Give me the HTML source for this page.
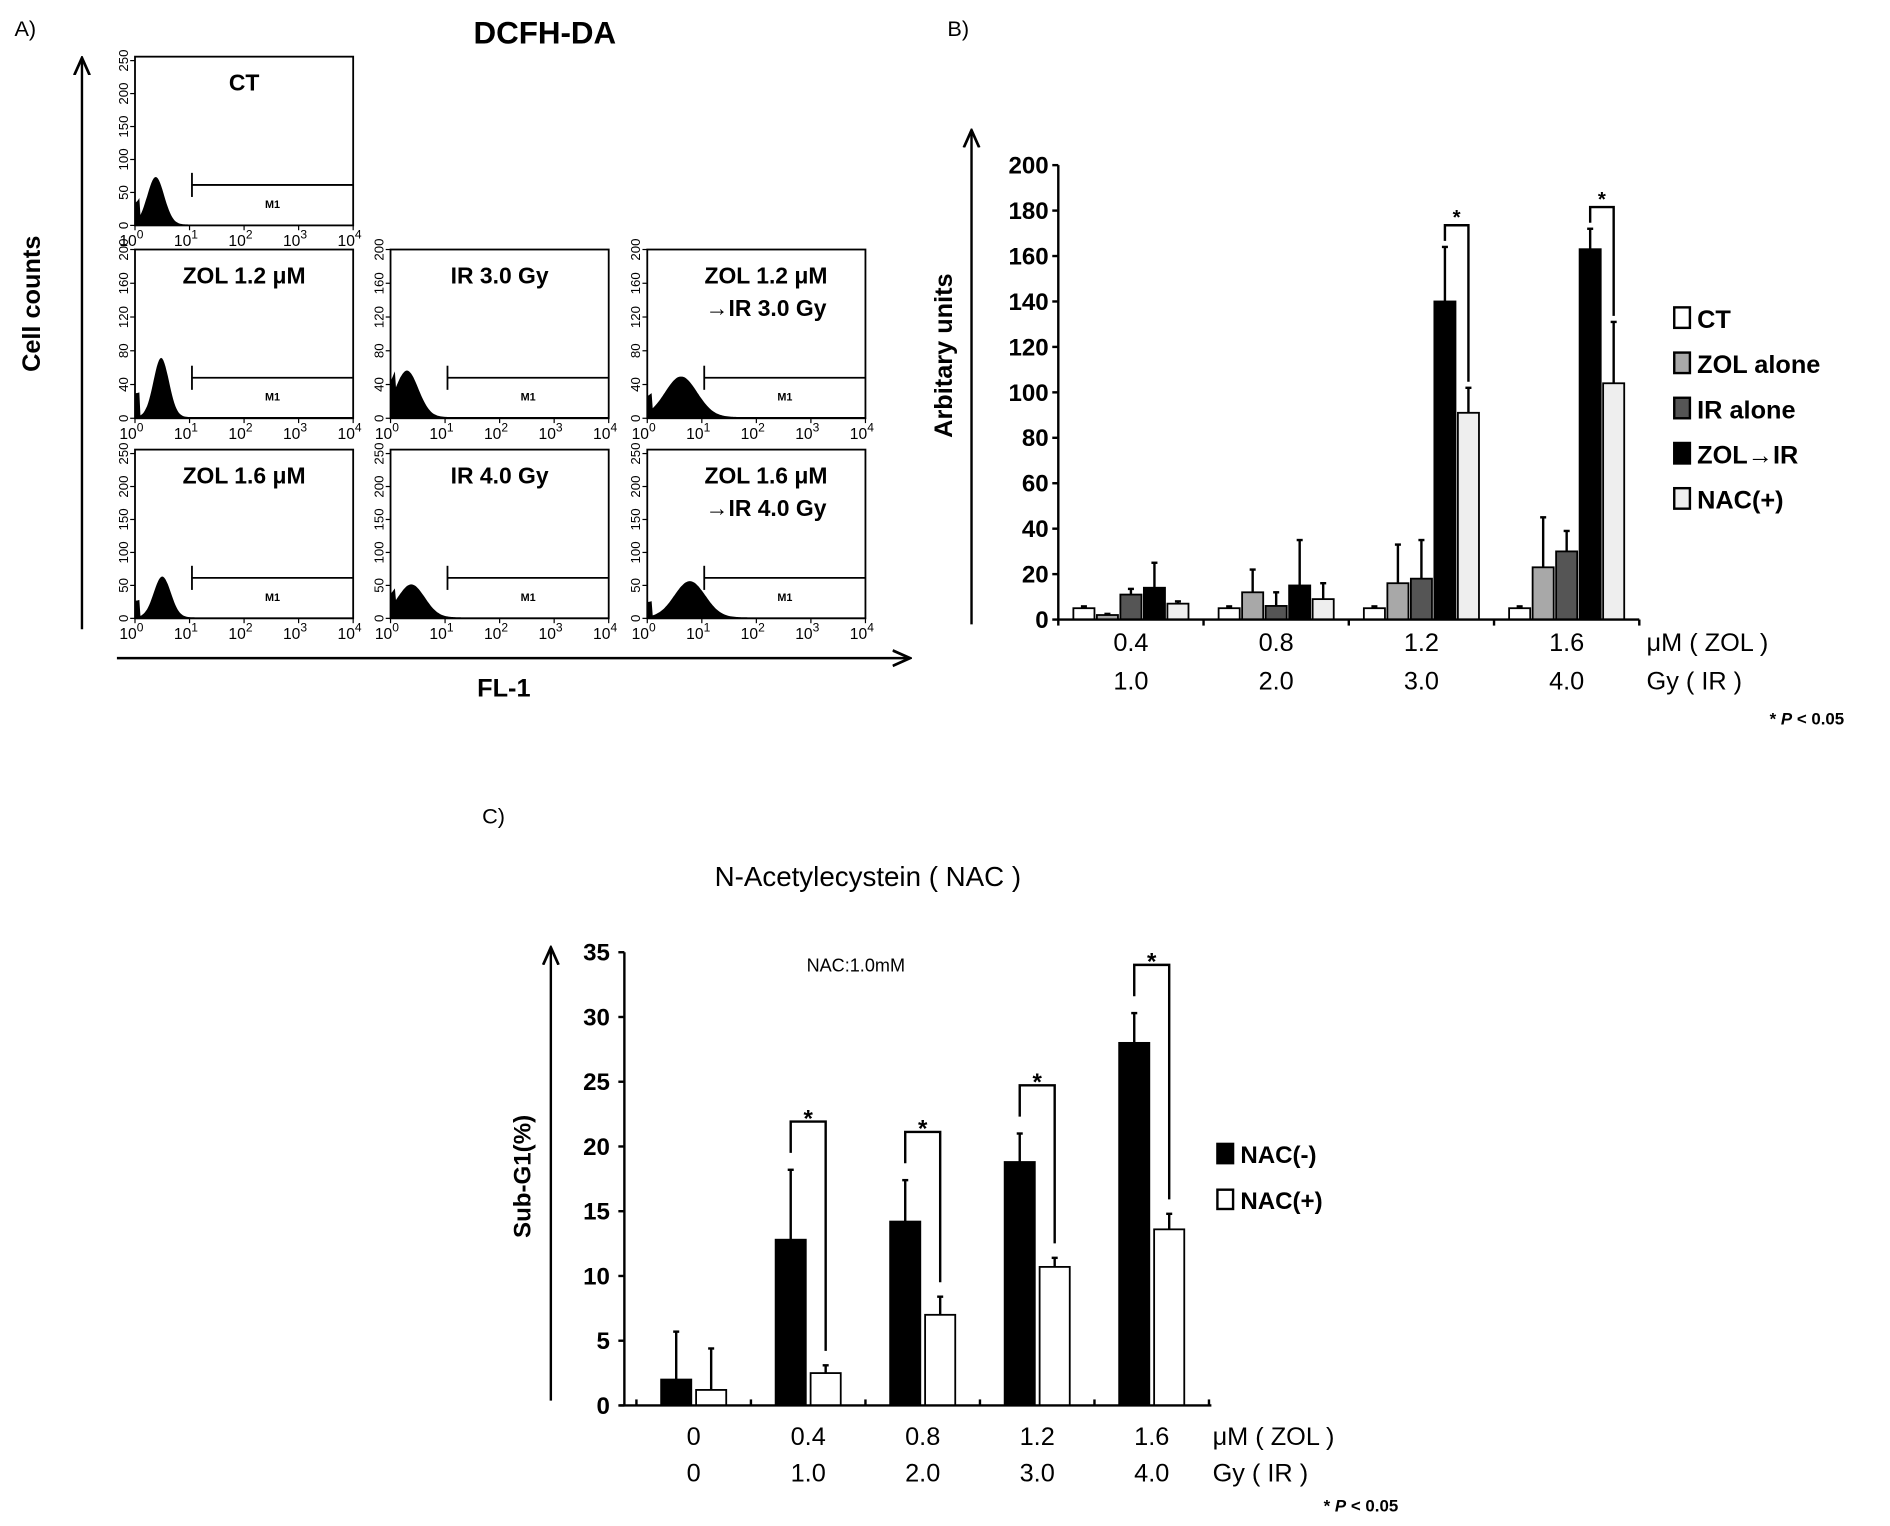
<!DOCTYPE html>
<html><head><meta charset="utf-8"><style>
html,body{margin:0;padding:0;background:#fff}
svg{display:block}
text{font-family:"Liberation Sans",sans-serif}
.b{font-weight:bold}
</style></head><body>
<svg id="fig" width="1890" height="1526" viewBox="0 0 1568 1266" xmlns="http://www.w3.org/2000/svg">
<defs><marker id="ar" viewBox="0 0 10 10" refX="9" refY="5" markerWidth="8" markerHeight="8" orient="auto"><path d="M0,1 L9,5 L0,9" fill="none" stroke="#000" stroke-width="1.4"/></marker></defs>
<g id="pa">
<text x="12" y="30" font-size="18">A)</text>
<text x="452" y="36" font-size="26" class="b" text-anchor="middle">DCFH-DA</text>
<line x1="68" y1="522" x2="68" y2="48" stroke="#000" stroke-width="2" marker-end="url(#ar)"/>
<line x1="97" y1="546" x2="755" y2="546" stroke="#000" stroke-width="2" marker-end="url(#ar)"/>
<text transform="translate(33,252) rotate(-90)" font-size="21" class="b" text-anchor="middle">Cell counts</text>
<text x="418" y="578" font-size="21" class="b" text-anchor="middle">FL-1</text>
</g>
<g id="pb">
<text x="786" y="30" font-size="18">B)</text>
<line x1="806" y1="518" x2="806" y2="108" stroke="#000" stroke-width="2" marker-end="url(#ar)"/>
<text transform="translate(790,295) rotate(-90)" font-size="21" class="b" text-anchor="middle">Arbitary units</text>
<text x="1530" y="601" font-size="14" class="b" text-anchor="end">*   <tspan font-style="italic">P</tspan> &lt; 0.05</text>
</g>
<g id="pc">
<text x="400" y="683" font-size="18">C)</text>
<text x="720" y="735" font-size="23" text-anchor="middle">N-Acetylecystein ( NAC )</text>
<text x="710" y="806" font-size="15" text-anchor="middle">NAC:1.0mM</text>
<line x1="457" y1="1162" x2="457" y2="786" stroke="#000" stroke-width="2" marker-end="url(#ar)"/>
<text transform="translate(440,976) rotate(-90)" font-size="20" class="b" text-anchor="middle">Sub-G1(%)</text>
<text x="1160" y="1254" font-size="14" class="b" text-anchor="end">*   <tspan font-style="italic">P</tspan> &lt; 0.05</text>
</g>
</svg>
<script>
const NS='http://www.w3.org/2000/svg';
function mk(parent,tag,attrs,txt){const e=document.createElementNS(NS,tag);for(const k in attrs)e.setAttribute(k,attrs[k]);if(txt!==undefined)e.textContent=txt;parent.appendChild(e);return e;}

// ---------- Panel A: histograms ----------
const histLabels=[["CT"],["ZOL 1.2 μM"],["IR 3.0 Gy"],["ZOL 1.2 μM","→IR 3.0 Gy"],["ZOL 1.6 μM"],["IR 4.0 Gy"],["ZOL 1.6 μM","→IR 4.0 Gy"]];
const histPeakLog=[0.38,0.48,0.3,0.62,0.5,0.38,0.78];
const histPeakCount=[72,70,55,48,62,50,55];
const histSpread=[0.22,0.2,0.3,0.42,0.22,0.35,0.4];
const histYMax=[256,200,200,200,256,256,256];
const histYTicks256=["0","50","100","150","200","250"];
const histYTicks200=["0","40","80","120","160","200"];
const histXTicks=["0","1","2","3","4"];
const boxes=[[112,47],[112,207],[324,207],[537,207],[112,373],[324,373],[537,373]];
const BW=181,BH=140;
const pa=document.getElementById('pa');
boxes.forEach((b,i)=>{
  const g=mk(pa,'g',{});
  
  
  const x0=b[0],y0=b[1];
  const xs=l=>x0+l/4*BW, ys=c=>y0+BH-c/histYMax[i]*BH;
  let d='M'+x0+','+(y0+BH);
  for(let l=0;l<=4.0001;l+=0.02){
    const c=histPeakCount[i]*Math.exp(-Math.pow((l-histPeakLog[i])/histSpread[i],2))+ (l<0.1?histPeakCount[i]*0.4:0)+1.5;
    d+=' L'+xs(l).toFixed(1)+','+ys(Math.min(c,histYMax[i])).toFixed(1);
  }
  d+=' L'+(x0+BW)+','+(y0+BH)+'Z';
  const p=mk(g,'path',{d:d,fill:'#000'});
  
  
  const r=mk(g,'rect',{x:x0,y:y0,width:BW,height:BH,fill:'none',stroke:'#000','stroke-width':1.5});
  
  
  const lines=histLabels[i];
  lines.forEach((t,k)=>{const tt=mk(g,'text',{x:x0+BW/2+(lines.length>1?8:0),y:y0+28+k*27,'font-size':19,'font-weight':'bold','text-anchor':'middle'},t);
    });
  const my=y0+BH*0.76, mx=xs(1)+2;
  mk(g,'line',{x1:mx,y1:my-10,x2:mx,y2:my+10,stroke:'#000','stroke-width':1.5});
  const ml=mk(g,'line',{x1:mx,y1:my,x2:x0+BW,y2:my,stroke:'#000','stroke-width':1.5});
  
  mk(g,'text',{x:(mx+x0+BW)/2,y:my+19,'font-size':9,'font-weight':'bold','text-anchor':'middle'},'M1');
  const yt=histYMax[i]===256?histYTicks256:histYTicks200;
  yt.forEach(t=>{const c=+t;const yy=ys(c);
    mk(g,'line',{x1:x0-4,y1:yy,x2:x0,y2:yy,stroke:'#000'});
    const tt=mk(g,'text',{transform:`translate(${x0-6},${yy}) rotate(-90)`,'font-size':11,'text-anchor':'middle'},t);
    });
  histXTicks.forEach(t=>{const xx=xs(+t);
    mk(g,'line',{x1:xx,y1:y0+BH,x2:xx,y2:y0+BH+4,stroke:'#000'});
    const tt=mk(g,'text',{x:xx-3,y:y0+BH+17,'font-size':13,'text-anchor':'middle'});
    
    tt.appendChild(document.createTextNode('10'));
    mk(tt,'tspan',{dy:-6,'font-size':10},t);});
});

// ---------- Panel B ----------
const bGroupsTop=["0.4","0.8","1.2","1.6"];
const bGroupsBottom=["1.0","2.0","3.0","4.0"];
const bSeriesNames=["CT","ZOL alone","IR alone","ZOL→IR","NAC(+)"];
const bColors=["#fff","#a8a8a8","#555","#000","#eee"];
const bCT=[5,5,5,5];
const bZOL=[2,12,16,23];
const bIR=[11,6,18,30];
const bZOLIR=[14,15,140,163];
const bNAC=[7,9,91,104];
const bErrCT=[0.8,0.8,0.8,0.8];
const bErrZOL=[0.5,10,17,22];
const bErrIR=[2.5,6,17,9];
const bErrZOLIR=[11,20,24,9];
const bErrNAC=[1,7,11,27];
const bYTicks=[0,20,40,60,80,100,120,140,160,180,200];
const bSig=[2,3];
const pb=document.getElementById('pb');
const bX0=878,bX1=1360,bY0=514,bYtop=137;
const bY=v=>bY0-v/200*(bY0-bYtop);
const bGX=i=>bX0+(i+0.5)*(bX1-bX0)/4;
const bBW=19.5;
const bVals=[bCT,bZOL,bIR,bZOLIR,bNAC], bErrs=[bErrCT,bErrZOL,bErrIR,bErrZOLIR,bErrNAC];
bGroupsTop.forEach((g,i)=>{bVals.forEach((arr,s)=>{
  const cx=bGX(i)+(s-2)*bBW;
  const x=cx-bBW/2+1, y=bY(arr[i]);
  const eT=bY(arr[i]+bErrs[s][i]);
  const el=mk(pb,'line',{x1:cx,y1:y,x2:cx,y2:eT,stroke:'#000','stroke-width':2});
  
  mk(pb,'line',{x1:cx-2.5,y1:eT,x2:cx+2.5,y2:eT,stroke:'#000','stroke-width':2});
  const r=mk(pb,'rect',{x:x,y:y,width:bBW-2,height:bY0-y,fill:bColors[s],stroke:'#000','stroke-width':1.5});
  
});});
bSig.forEach(i=>{
  const x1=bGX(i)+bBW, x2=bGX(i)+2*bBW;
  const top=bY(bZOLIR[i]+bErrZOLIR[i])-18;
  const path=mk(pb,'path',{d:`M${x1},${bY(bZOLIR[i]+bErrZOLIR[i])-5} L${x1},${top} L${x2},${top} L${x2},${bY(bNAC[i]+bErrNAC[i])-5}`,fill:'none',stroke:'#000','stroke-width':2});
  
  mk(pb,'text',{x:(x1+x2)/2,y:top-1,'font-size':17,'font-weight':'bold','text-anchor':'middle'},'*');
});
mk(pb,'line',{x1:bX0,y1:bYtop,x2:bX0,y2:bY0,stroke:'#000','stroke-width':2});
mk(pb,'line',{x1:bX0,y1:bY0,x2:bX1,y2:bY0,stroke:'#000','stroke-width':2});
bYTicks.forEach(v=>{mk(pb,'line',{x1:bX0-5,y1:bY(v),x2:bX0,y2:bY(v),stroke:'#000','stroke-width':2});
  const t=mk(pb,'text',{x:bX0-8,y:bY(v)+7,'font-size':20,'font-weight':'bold','text-anchor':'end'},String(v));
  });
for(let i=0;i<=4;i++)mk(pb,'line',{x1:bX0+i*(bX1-bX0)/4,y1:bY0,x2:bX0+i*(bX1-bX0)/4,y2:bY0+5,stroke:'#000','stroke-width':2});
bGroupsTop.forEach((g,i)=>{
  const a=mk(pb,'text',{x:bGX(i),y:540,'font-size':21,'text-anchor':'middle'},g);
  
  const b=mk(pb,'text',{x:bGX(i),y:572,'font-size':21,'text-anchor':'middle'},bGroupsBottom[i]);
  });
mk(pb,'text',{x:1366,y:540,'font-size':21},'μM ( ZOL )');
mk(pb,'text',{x:1366,y:572,'font-size':21},'Gy ( IR )');
bSeriesNames.forEach((n,s)=>{const y=264+s*37.5;
  const lg=mk(pb,'g',{});
  
  mk(lg,'rect',{x:1389,y:y-9,width:13,height:17,fill:bColors[s],stroke:'#000','stroke-width':2});
  mk(lg,'text',{x:1408,y:y+8,'font-size':21,'font-weight':'bold'},n);});

// ---------- Panel C ----------
const cGroupsTop=["0","0.4","0.8","1.2","1.6"];
const cGroupsBottom=["0","1.0","2.0","3.0","4.0"];
const cNacMinus=[2,12.8,14.2,18.8,28];
const cNacPlus=[1.2,2.5,7,10.7,13.6];
const cErrMinus=[3.7,5.4,3.2,2.2,2.3];
const cErrPlus=[3.2,0.6,1.4,0.7,1.2];
const cYTicks=[0,5,10,15,20,25,30,35];
const cSig=[1,2,3,4];
const pc=document.getElementById('pc');
const cX0=518,cX1=1000,cY0=1166,cYtop=790;
const cY=v=>cY0-v/35*(cY0-cYtop);
const cGX=i=>cX0+(i+0.5)*95+10;
const cBW=27;
[cNacMinus,cNacPlus].forEach((arr,s)=>{const err=s?cErrPlus:cErrMinus;
  arr.forEach((v,i)=>{const cx=cGX(i)+(s?cBW/2+1:-cBW/2-1);
    const eT=cY(v+err[i]);
    const el=mk(pc,'line',{x1:cx,y1:cY(v),x2:cx,y2:eT,stroke:'#000','stroke-width':2});
    
    mk(pc,'line',{x1:cx-2.5,y1:eT,x2:cx+2.5,y2:eT,stroke:'#000','stroke-width':2});
    const r=mk(pc,'rect',{x:cx-cBW/2+1,y:cY(v),width:cBW-2,height:cY0-cY(v),fill:s?'#fff':'#000',stroke:'#000','stroke-width':1.5});
    });});
cSig.forEach(i=>{const x1=cGX(i)-cBW/2-1, x2=cGX(i)+cBW/2+1;
  const top=cY(cNacMinus[i]+cErrMinus[i])-40;
  const p=mk(pc,'path',{d:`M${x1},${cY(cNacMinus[i]+cErrMinus[i])-14} L${x1},${top} L${x2},${top} L${x2},${cY(cNacPlus[i]+cErrPlus[i])-12}`,fill:'none',stroke:'#000','stroke-width':2});
  
  mk(pc,'text',{x:(x1+x2)/2,y:top+4,'font-size':20,'font-weight':'bold','text-anchor':'middle'},'*');});
mk(pc,'line',{x1:cX0,y1:cYtop,x2:cX0,y2:cY0,stroke:'#000','stroke-width':2});
mk(pc,'line',{x1:cX0-4,y1:cY0,x2:cX1+5,y2:cY0,stroke:'#000','stroke-width':2});
cYTicks.forEach(v=>{mk(pc,'line',{x1:cX0-5,y1:cY(v),x2:cX0,y2:cY(v),stroke:'#000','stroke-width':2});
  const t=mk(pc,'text',{x:cX0-12,y:cY(v)+7,'font-size':20,'font-weight':'bold','text-anchor':'end'},String(v));
  });
for(let i=0;i<=5;i++)mk(pc,'line',{x1:cX0+10+i*95,y1:cY0-5,x2:cX0+10+i*95,y2:cY0,stroke:'#000','stroke-width':2});
cGroupsTop.forEach((g,i)=>{
  const a=mk(pc,'text',{x:cGX(i),y:1199,'font-size':21,'text-anchor':'middle'},g);
  
  const b=mk(pc,'text',{x:cGX(i),y:1229,'font-size':21,'text-anchor':'middle'},cGroupsBottom[i]);
  });
mk(pc,'text',{x:1006,y:1199,'font-size':21},'μM ( ZOL )');
mk(pc,'text',{x:1006,y:1229,'font-size':21},'Gy ( IR )');
["NAC(-)","NAC(+)"].forEach((n,s)=>{const y=957+s*38;
  const lg=mk(pc,'g',{});
  
  mk(lg,'rect',{x:1010,y:y-8,width:13,height:16,fill:s?'#fff':'#000',stroke:'#000','stroke-width':2});
  mk(lg,'text',{x:1029,y:y+8,'font-size':20,'font-weight':'bold'},n);});
</script>
</body></html>
